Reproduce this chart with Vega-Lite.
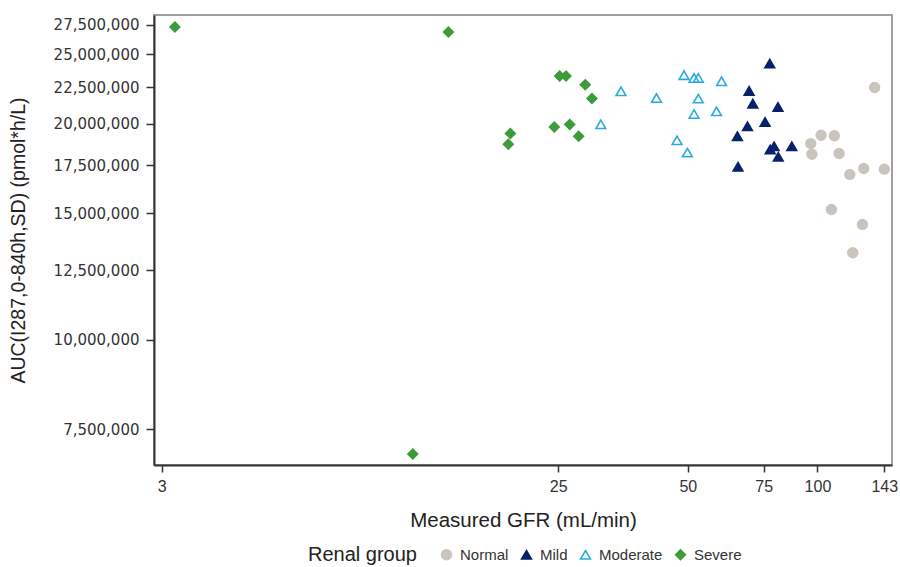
{
  "$schema": "https://vega.github.io/schema/vega-lite/v6.json",
  "autosize": {"type": "none"},
  "width": 738,
  "height": 450,
  "padding": {"left": 154, "top": 15, "right": 8, "bottom": 102},
  "background": "white",
  "config": {
    "view": {"stroke": "#a0a0a0", "strokeWidth": 2},
    "font": "Liberation Sans"
  },
  "data": {
    "values": [
      {"gfr": 135.8, "auc": 22470000, "group": "Normal"},
      {"gfr": 102.0, "auc": 19280000, "group": "Normal"},
      {"gfr": 109.5, "auc": 19250000, "group": "Normal"},
      {"gfr": 96.5, "auc": 18770000, "group": "Normal"},
      {"gfr": 97.1, "auc": 18140000, "group": "Normal"},
      {"gfr": 112.3, "auc": 18180000, "group": "Normal"},
      {"gfr": 118.9, "auc": 17000000, "group": "Normal"},
      {"gfr": 128.1, "auc": 17330000, "group": "Normal"},
      {"gfr": 143.0, "auc": 17290000, "group": "Normal"},
      {"gfr": 107.8, "auc": 15190000, "group": "Normal"},
      {"gfr": 127.2, "auc": 14480000, "group": "Normal"},
      {"gfr": 120.8, "auc": 13220000, "group": "Normal"},
      {"gfr": 77.5, "auc": 24270000, "group": "Mild"},
      {"gfr": 69.4, "auc": 22230000, "group": "Mild"},
      {"gfr": 70.8, "auc": 21340000, "group": "Mild"},
      {"gfr": 81.0, "auc": 21110000, "group": "Mild"},
      {"gfr": 75.6, "auc": 20120000, "group": "Mild"},
      {"gfr": 68.8, "auc": 19840000, "group": "Mild"},
      {"gfr": 65.2, "auc": 19220000, "group": "Mild"},
      {"gfr": 79.3, "auc": 18610000, "group": "Mild"},
      {"gfr": 77.7, "auc": 18420000, "group": "Mild"},
      {"gfr": 81.1, "auc": 17990000, "group": "Mild"},
      {"gfr": 87.2, "auc": 18610000, "group": "Mild"},
      {"gfr": 65.4, "auc": 17420000, "group": "Mild"},
      {"gfr": 34.98, "auc": 22200000, "group": "Moderate"},
      {"gfr": 42.3, "auc": 21730000, "group": "Moderate"},
      {"gfr": 31.4, "auc": 19970000, "group": "Moderate"},
      {"gfr": 49.0, "auc": 23380000, "group": "Moderate"},
      {"gfr": 51.7, "auc": 23170000, "group": "Moderate"},
      {"gfr": 52.9, "auc": 23170000, "group": "Moderate"},
      {"gfr": 59.9, "auc": 22930000, "group": "Moderate"},
      {"gfr": 52.9, "auc": 21690000, "group": "Moderate"},
      {"gfr": 51.7, "auc": 20640000, "group": "Moderate"},
      {"gfr": 58.3, "auc": 20820000, "group": "Moderate"},
      {"gfr": 47.2, "auc": 18970000, "group": "Moderate"},
      {"gfr": 49.9, "auc": 18240000, "group": "Moderate"},
      {"gfr": 3.22, "auc": 27290000, "group": "Severe"},
      {"gfr": 13.9, "auc": 26850000, "group": "Severe"},
      {"gfr": 11.49, "auc": 6930000, "group": "Severe"},
      {"gfr": 25.2, "auc": 23320000, "group": "Severe"},
      {"gfr": 26.07, "auc": 23320000, "group": "Severe"},
      {"gfr": 28.9, "auc": 22680000, "group": "Severe"},
      {"gfr": 29.95, "auc": 21690000, "group": "Severe"},
      {"gfr": 19.36, "auc": 19390000, "group": "Severe"},
      {"gfr": 19.15, "auc": 18730000, "group": "Severe"},
      {"gfr": 24.49, "auc": 19800000, "group": "Severe"},
      {"gfr": 26.6, "auc": 19960000, "group": "Severe"},
      {"gfr": 27.9, "auc": 19220000, "group": "Severe"}
    ]
  },
  "mark": {"type": "point", "filled": true, "size": 95, "strokeWidth": 1.6, "opacity": 1},
  "encoding": {
    "x": {
      "field": "gfr",
      "type": "quantitative",
      "scale": {"type": "log", "domain": [2.88, 149], "nice": false},
      "axis": {
        "values": [3, 25, 50, 75, 100, 143],
        "format": "d",
        "grid": false,
        "labelFlush": false,
        "labelFont": "Liberation Sans",
        "labelFontSize": 16,
        "labelColor": "#333333",
        "labelPadding": 6,
        "tickSize": 7,
        "tickColor": "#333333",
        "tickWidth": 1.5,
        "domainColor": "#333333",
        "domainWidth": 2,
        "title": "Measured GFR (mL/min)",
        "titleFont": "Liberation Sans",
        "titleFontSize": 20.5,
        "titleFontWeight": "normal",
        "titleColor": "#222222",
        "titleY": 55,
        "titleBaseline": "middle"
      }
    },
    "y": {
      "field": "auc",
      "type": "quantitative",
      "scale": {"type": "log", "domain": [6690000, 28360000], "nice": false, "zero": false},
      "axis": {
        "values": [7500000, 10000000, 12500000, 15000000, 17500000, 20000000, 22500000, 25000000, 27500000],
        "format": ",d",
        "grid": false,
        "labelFont": "DejaVu Sans",
        "labelFontSize": 15,
        "labelColor": "#333333",
        "labelPadding": 7,
        "tickSize": 8,
        "tickColor": "#333333",
        "tickWidth": 1.5,
        "domainColor": "#333333",
        "domainWidth": 2,
        "title": "AUC(I287,0-840h,SD) (pmol*h/L)",
        "titleFont": "Liberation Sans",
        "titleFontSize": 19.5,
        "titleFontWeight": "normal",
        "titleColor": "#222222",
        "titleX": -136,
        "titleY": 225,
        "titleBaseline": "middle",
        "titleAlign": "center"
      }
    },
    "shape": {
      "field": "group",
      "type": "nominal",
      "scale": {"domain": ["Normal", "Mild", "Moderate", "Severe"], "range": ["circle", "triangle-up", "triangle-up", "diamond"]},
      "legend": {"orient": "none", "legendX": 154, "legendY": 532, "direction": "horizontal", "title": "Renal group", "titleOrient": "left", "titleFontSize": 20, "titleFontWeight": "normal", "titleColor": "#222222", "titlePadding": 22, "labelFontSize": 15, "labelColor": "#333333", "labelOffset": 6, "columnPadding": 9, "symbolSize": 95, "symbolStrokeWidth": 1.6}
    },
    "fill": {
      "field": "group",
      "type": "nominal",
      "scale": {"domain": ["Normal", "Mild", "Moderate", "Severe"], "range": ["#c9c5bd", "#07216b", "transparent", "#3c9c3a"]},
      "legend": {"orient": "none", "legendX": 154, "legendY": 532, "direction": "horizontal", "title": "Renal group", "titleOrient": "left", "titleFontSize": 20, "titleFontWeight": "normal", "titleColor": "#222222", "titlePadding": 22, "labelFontSize": 15, "labelColor": "#333333", "labelOffset": 6, "columnPadding": 9, "symbolSize": 95, "symbolStrokeWidth": 1.6}
    },
    "stroke": {
      "field": "group",
      "type": "nominal",
      "scale": {"domain": ["Normal", "Mild", "Moderate", "Severe"], "range": ["#c9c5bd", "#07216b", "#29abe2", "#3c9c3a"]},
      "legend": {"orient": "none", "legendX": 154, "legendY": 532, "direction": "horizontal", "title": "Renal group", "titleOrient": "left", "titleFontSize": 20, "titleFontWeight": "normal", "titleColor": "#222222", "titlePadding": 22, "labelFontSize": 15, "labelColor": "#333333", "labelOffset": 6, "columnPadding": 9, "symbolSize": 95, "symbolStrokeWidth": 1.6}
    }
  }
}
